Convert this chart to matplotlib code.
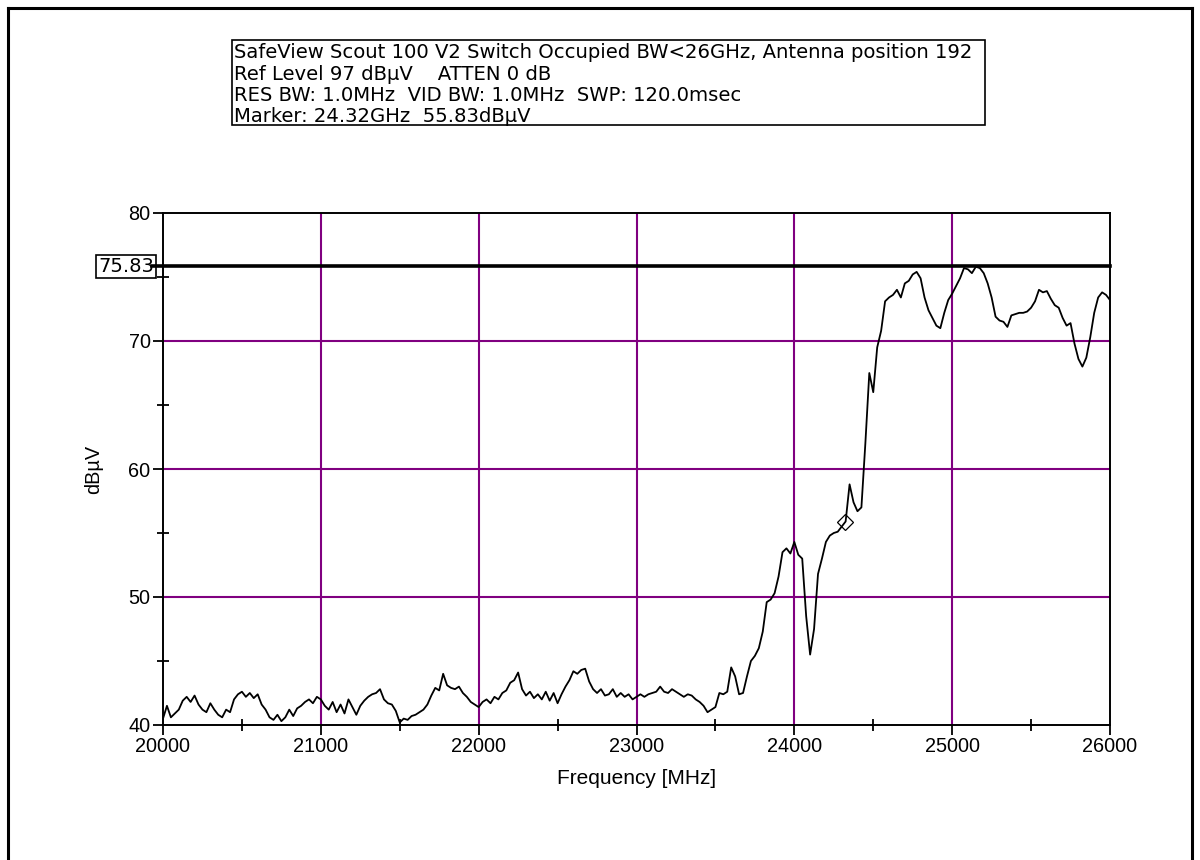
import numpy as np
import matplotlib.pyplot as plt
from matplotlib.lines import Line2D
from matplotlib.ticker import MultipleLocator

plt.rcParams['font.family'] = ['Liberation Sans', 'DejaVu Sans']

# sweep 20000..26000 MHz, one reading every 25 MHz (dBuV)
start_mhz = 20000
step_mhz = 25
level = [
    # 20000 - 21000
    40.5, 41.5, 40.6, 40.9, 41.2, 41.9, 42.2, 41.8, 42.3, 41.6,
    41.2, 41.0, 41.7, 41.2, 40.8, 40.6, 41.2, 41.0, 42.0, 42.4,
    42.6, 42.2, 42.5, 42.1, 42.4, 41.6, 41.2, 40.6, 40.4, 40.8,
    40.3, 40.6, 41.2, 40.7, 41.3, 41.5, 41.8, 42.0, 41.7, 42.2,
    42.0,
    # 21025 - 22000
    41.5, 41.2, 41.8, 41.0, 41.6, 40.9, 42.0, 41.4, 40.8, 41.5,
    41.9, 42.2, 42.4, 42.5, 42.8, 42.0, 41.7, 41.6, 41.1, 40.2,
    40.5, 40.4, 40.7, 40.8, 41.0, 41.2, 41.6, 42.3, 42.9, 42.7,
    44.0, 43.1, 42.9, 42.8, 43.0, 42.5, 42.2, 41.8, 41.6, 41.4,
    # 22025 - 23000
    41.8, 42.0, 41.7, 42.2, 42.0, 42.5, 42.7, 43.3, 43.5, 44.1,
    42.8, 42.3, 42.6, 42.1, 42.4, 42.0, 42.6, 41.9, 42.5, 41.7,
    42.4, 43.0, 43.5, 44.2, 44.0, 44.3, 44.4, 43.4, 42.8, 42.5,
    42.8, 42.3, 42.4, 42.8, 42.2, 42.5, 42.2, 42.4, 42.0, 42.2,
    # 23025 - 24000
    42.4, 42.2, 42.4, 42.5, 42.6, 43.0, 42.6, 42.5, 42.8, 42.6,
    42.4, 42.2, 42.4, 42.3, 42.0, 41.8, 41.5, 41.0, 41.2, 41.4,
    42.5, 42.4, 42.6, 44.5, 43.8, 42.4, 42.5, 43.8, 45.0, 45.4,
    46.0, 47.3, 49.6, 49.8, 50.3, 51.6, 53.5, 53.8, 53.4, 54.3,
    # 24025 - 25000
    53.3, 53.0, 48.5, 45.5, 47.5, 51.8, 53.0, 54.3, 54.8, 55.0,
    55.1, 55.5, 55.9, 58.8, 57.4, 56.7, 57.0, 62.0, 67.5, 66.0,
    69.5, 70.8, 73.1, 73.4, 73.6, 74.0, 73.4, 74.5, 74.7, 75.2,
    75.4, 74.9, 73.4, 72.4, 71.8, 71.2, 71.0, 72.2, 73.2, 73.7,
    # 25025 - 26000
    74.3, 74.9, 75.7, 75.6, 75.3, 75.8, 75.7, 75.3, 74.5, 73.4,
    71.9, 71.6, 71.5, 71.1, 72.0, 72.1, 72.2, 72.2, 72.3, 72.6,
    73.1, 74.0, 73.8, 73.9, 73.3, 72.8, 72.6, 71.8, 71.2, 71.4,
    69.8, 68.6, 68.0, 68.7, 70.3, 72.2, 73.4, 73.8, 73.6, 73.2,
]
freq = start_mhz + step_mhz * np.arange(len(level))

marker_mhz = 24320
marker_dbuv = 55.83
display_line = 75.83

header = [
    "SafeView Scout 100 V2 Switch Occupied BW<26GHz, Antenna position 192",
    "Ref Level 97 dB\u00b5V    ATTEN 0 dB",
    "RES BW: 1.0MHz  VID BW: 1.0MHz  SWP: 120.0msec",
    "Marker: 24.32GHz  55.83dB\u00b5V",
]

W, H = 1200, 860
fig = plt.figure(figsize=(12, 8.6), dpi=100)

def fx(px):
    return px / W

def fy(py):
    return 1 - py / H

# outer frame
for xs, ys in [((8, 8), (8, 860)), ((8, 1192), (8, 8)), ((1192, 1192), (8, 860))]:
    fig.add_artist(Line2D([fx(x) for x in xs], [fy(y) for y in ys],
                          color='black', lw=2.2))

# header box
fig.add_artist(plt.Rectangle((fx(232), fy(125)), fx(985) - fx(232), fy(40) - fy(125),
                             fill=False, ec='black', lw=1.2))
for i, line in enumerate(header):
    fig.text(fx(234), fy(53 + i * 21.2), line, fontsize=14.1, va='center', ha='left',
             family=['DejaVu Sans'])

ax = fig.add_axes([fx(163), fy(725), fx(1110) - fx(163), fy(213) - fy(725)])
ax.plot(freq, level, color='black', lw=1.3, zorder=3)
ax.plot([marker_mhz], [marker_dbuv], marker='D', ms=8, mfc='none', mec='black',
        mew=0.9, zorder=4)

ax.set_xlim(20000, 26000)
ax.set_ylim(40, 80)
ax.xaxis.set_major_locator(MultipleLocator(1000))
ax.xaxis.set_minor_locator(MultipleLocator(500))
ax.yaxis.set_major_locator(MultipleLocator(10))
ax.yaxis.set_minor_locator(MultipleLocator(5))
ax.tick_params(which='major', direction='out', length=7, width=1.3, labelsize=14.3, pad=2)
ax.tick_params(which='minor', direction='inout', length=8, width=1.3)
ax.set_xticks(np.arange(20000, 26001, 1000))
ax.set_xticklabels([str(v) for v in range(20000, 26001, 1000)])

for v in range(21000, 26000, 1000):
    ax.axvline(v, color='#800080', lw=1.5, zorder=1)
for v in (50, 60, 70):
    ax.axhline(v, color='#800080', lw=1.5, zorder=1)

# display line with its readout box
ax.plot([-0.012, 1], [display_line, display_line], color='black', lw=2.6,
        transform=ax.get_yaxis_transform(), clip_on=False, zorder=5)
ax.text(-0.0095, display_line, f"{display_line:.2f}", transform=ax.get_yaxis_transform(),
        ha='right', va='center', fontsize=14, family=['DejaVu Sans'],
        bbox=dict(boxstyle='square,pad=0.12', fc='white', ec='black', lw=1.2))

for s in ax.spines.values():
    s.set_linewidth(1.4)

ax.set_xlabel("Frequency [MHz]", fontsize=15, labelpad=9)
ax.set_ylabel("dB\u00b5V", fontsize=14.3, labelpad=18)

fig.savefig("out.png", dpi=100)
